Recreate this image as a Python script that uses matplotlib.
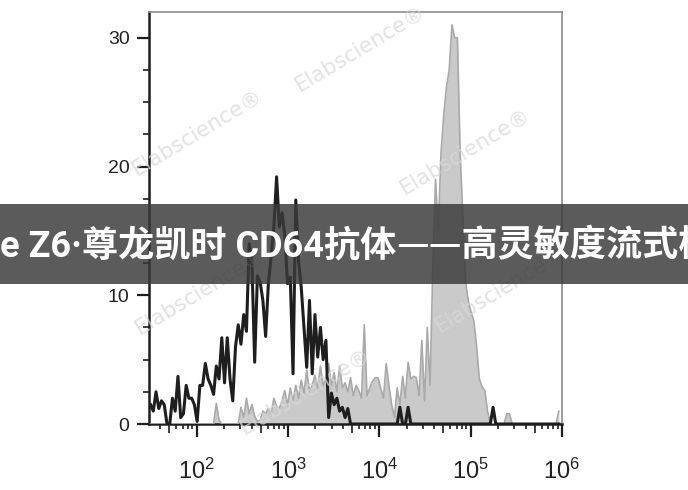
import numpy as np
import matplotlib
matplotlib.use('Agg')
import matplotlib.pyplot as plt
from matplotlib.patches import Rectangle
from matplotlib.text import Annotation
from matplotlib.ticker import FixedLocator, NullFormatter

plt.rcParams['font.family'] = ['Liberation Sans', 'DejaVu Sans']
plt.rcParams['mathtext.fontset'] = 'custom'
plt.rcParams['mathtext.rm'] = 'Liberation Sans'
plt.rcParams['mathtext.it'] = 'Liberation Sans'

# histogram channels: log10 of the first channel edge and channel width
channel_start = 1.48
channel_step = 0.03

# isotype control (black line), counts per channel
isotype = [1.5, 1.0, 2.5, 1.2, 1.8, 1.5, 0, 0, 2.0, 1.0,
           3.7, 0.5, 0.8, 3.0, 2.0, 2.0, 1.5, 0.2, 3.0, 3.0,
           4.7, 3.5, 3.0, 2.3, 4.5, 3.5, 6.7, 3.2, 6.7, 3.5,
           1.8, 6.0, 7.7, 6.2, 8.5, 7.2, 14.0, 12.5, 4.8, 11.5,
           11.0, 9.6, 6.8, 10.9, 13.0, 15.3, 19.2, 15.3, 16.4, 14.6,
           10.9, 11.4, 3.9, 17.4, 12.7, 10.6, 7.5, 4.4, 9.6, 3.9,
           8.5, 5.2, 7.5, 5.0, 6.5, 0.5, 2.4, 1.5, 2.0, 1.0,
           1.3, 0.5, 1.2, 0, 0, 0, 0, 0, 0, 0,
           0, 0, 0, 0, 0, 0, 0, 0, 0, 0,
           0, 1.3, 0, 0, 1.3, 0, 0, 0, 0, 0,
           0, 0, 0, 0, 0, 0, 0, 0, 0, 0,
           0, 0, 0, 0, 0, 0, 0, 0, 0, 0,
           0, 0, 0, 0, 0, 1.3, 0, 0, 0, 0,
           0, 0, 0, 0, 0, 0, 0, 0, 0, 0,
           0, 0, 0, 0, 0, 0, 0, 0, 0, 0]

# CD64 stained cells (gray filled), counts per channel
cd64 = [0, 0, 0, 0, 0, 0, 0, 0, 0, 0,
        0, 0, 0, 0, 0, 0, 0, 0, 0, 0,
        0, 0, 0, 0, 1.6, 0.3, 0, 0, 0, 0,
        0, 0, 0, 1.3, 0.5, 2.0, 0.8, 1.5, 0.6, 0.2,
        0.3, 1.0, 0.8, 1.2, 0.8, 2.0, 1.4, 1.2, 1.8, 2.6,
        1.5, 2.8, 1.8, 3.0, 2.0, 3.4, 2.4, 4.2, 2.5, 3.0,
        3.8, 2.8, 4.5, 3.0, 3.5, 4.7, 3.0, 4.0, 2.5, 4.5,
        2.8, 3.2, 2.5, 3.6, 2.2, 3.0, 2.6, 2.0, 7.7, 2.2,
        2.8, 3.3, 3.6, 3.6, 2.8, 2.0, 4.7, 3.0, 1.5, 0.5,
        2.8, 1.5, 3.7, 2.0, 4.8, 3.5, 3.7, 3.6, 2.2, 6.5,
        1.8, 7.5, 3.0, 12.0, 19.0, 15.0, 21.0, 24.0, 26.2, 27.5,
        31.0, 30.0, 30.0, 21.0, 16.0, 11.0, 9.5, 8.7, 8.0, 6.0,
        3.5, 2.9, 2.6, 1.0, 0, 0, 0, 0, 0, 0,
        0.8, 0.8, 0, 0, 0, 0, 0, 0, 0, 0,
        0, 0, 0, 0, 0, 0, 0, 0, 0, 1.0]

decades = [1e2, 1e3, 1e4, 1e5, 1e6]
decade_labels = ['$10^{2}$', '$10^{3}$', '$10^{4}$', '$10^{5}$', '$10^{6}$']
y_ticks = [0, 10, 20, 30]

banner_head = 'e Z6·尊龙凯时 CD64抗体'
banner_tail = '——高灵敏度流式检'
watermark = 'Elabscience®'

W, H = 688, 490
fig = plt.figure(figsize=(W / 100, H / 100), dpi=100)
ax = fig.add_axes([149 / W, 1 - 424 / H, 413 / W, 412 / H])

x = 10 ** (channel_start + (np.arange(len(isotype)) + 0.5) * channel_step)

ax.fill_between(x, cd64, 0, color='#cacaca', lw=0, zorder=2)
ax.plot(x, cd64, color='#a9a9a9', lw=1.2, zorder=3)
ax.plot(x, isotype, color='#1e1e1e', lw=2.2, zorder=5)

ax.set_xscale('log')
ax.set_xlim(10 ** 1.478, 1e6)
ax.set_ylim(0, 32)

# axis ticks
ax.xaxis.set_major_locator(FixedLocator(decades))
ax.set_xticklabels(decade_labels)
minor = [m * 10 ** e for e in range(1, 6) for m in range(2, 10)
         if 10 ** 1.478 <= m * 10 ** e <= 1e6]
ax.xaxis.set_minor_locator(FixedLocator(minor))
ax.xaxis.set_minor_formatter(NullFormatter())
ax.set_yticks(y_ticks)
ax.yaxis.set_minor_locator(FixedLocator([2.5, 5, 7.5, 12.5, 15, 17.5, 22.5, 25, 27.5]))

ax.tick_params(axis='x', which='major', direction='out', length=9, width=1.6,
               color='#1e1e1e', labelsize=17, pad=16, labelcolor='#222222')
ax.tick_params(axis='x', which='minor', direction='out', length=3.5, width=1.2, color='#1e1e1e')
ax.tick_params(axis='y', which='major', direction='out', length=9, width=1.6,
               color='#1e1e1e', labelsize=14, pad=5, labelcolor='#222222')
ax.tick_params(axis='y', which='minor', direction='out', length=4, width=1.2, color='#1e1e1e')

# 5x ticks are a bit longer
for tk, loc in zip(ax.xaxis.get_minor_ticks(), minor):
    if round(loc / 10 ** np.floor(np.log10(loc))) == 5:
        tk.tick1line.set_markersize(6.5)

for side in ['left', 'bottom']:
    ax.spines[side].set_color('#1e1e1e')
    ax.spines[side].set_linewidth(1.8)
for side in ['top', 'right']:
    ax.spines[side].set_color('#8c8c8c')
    ax.spines[side].set_linewidth(1.2)

# watermarks (pixel centres)
for cx, cy in [(197, 133), (360, 49), (465, 152), (200, 292), (305, 392), (500, 290)]:
    fig.text(cx / W, 1 - cy / H, watermark, rotation=31, ha='center', va='center',
             rotation_mode='anchor', fontsize=15.5, color='#d8d8d8', alpha=0.75,
             family=['DejaVu Sans'], zorder=4)

# banner
fig.add_artist(Rectangle((0, 1 - 284 / H), 1, 80 / H, transform=fig.transFigure,
                         facecolor='#3a3a3a', edgecolor='none', alpha=0.83, zorder=10))
head = fig.text(0, 1 - 246 / H, banner_head, ha='left', va='center', color='white',
                fontsize=26, fontweight='bold', family=['Roboto', 'Noto Sans CJK SC'],
                zorder=11)
fig.add_artist(Annotation(banner_tail, xy=(1, 0.5), xycoords=head, ha='left', va='center',
                          color='white', fontsize=26, fontweight='bold',
                          family=['Noto Sans CJK SC'], zorder=11, annotation_clip=False))

fig.savefig('out.png', dpi=100)
